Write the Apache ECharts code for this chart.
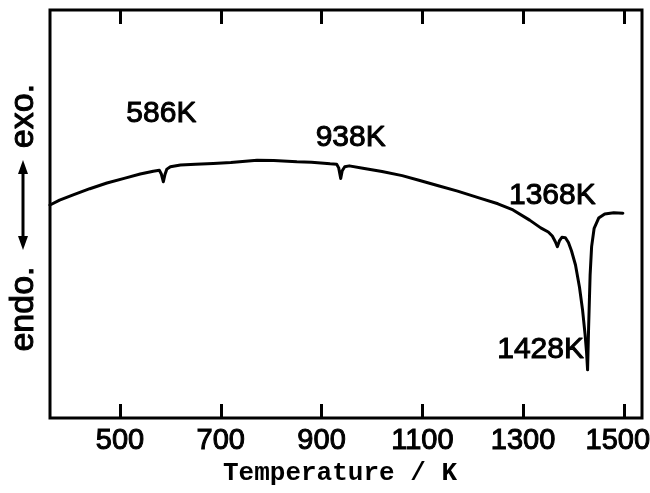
<!DOCTYPE html>
<html>
<head>
<meta charset="utf-8">
<script src="https://cdn.jsdelivr.net/npm/echarts@6/dist/echarts.min.js"></script>
<style>
  html, body { margin: 0; padding: 0; background: #fff; }
  #chart { width: 650px; height: 493px; }
</style>
</head>
<body>
<div id="chart"></div>
<script>
// DTA heating curve: temperature (K) and differential signal (arbitrary units, exo up)
const temperatures = [
  361, 380, 407, 440, 474, 510, 540, 566, 578, 582, 586, 589, 593, 600, 620, 650,
  685, 720, 772, 805, 851, 880, 917, 930, 934, 938, 941, 946, 955, 982, 1020, 1060,
  1095, 1130, 1170, 1214, 1250, 1280, 1313, 1335, 1350, 1358, 1364, 1368, 1372, 1377,
  1384, 1390, 1396, 1404, 1412, 1418, 1423, 1426, 1428, 1430, 1433, 1436, 1441, 1450, 1462,
  1480, 1498
];
const signal = [
  52.2, 53.4, 54.7, 56.2, 57.6, 58.8, 59.8, 60.5, 60.7, 59.8, 57.9, 59.6, 61.0, 61.6, 62.0, 62.2,
  62.4, 62.6, 63.2, 63.1, 62.8, 62.7, 62.3, 62.2, 61.3, 58.7, 60.6, 61.6, 61.8, 61.2, 60.4, 59.4,
  58.2, 57.0, 55.6, 53.9, 52.5, 51.0, 48.5, 46.6, 45.6, 44.6, 43.2, 42.0, 43.4, 44.3,
  44.2, 43.0, 41.0, 37.5, 32.0, 26.5, 20.5, 16.0, 11.8, 22.0, 35.0, 42.0, 46.5, 49.0, 50.0,
  50.3, 50.2
];
// Peak temperatures annotated on the curve
const peakTemps = [586, 938, 1368, 1428];
// Temperature axis tick values
const tickValues = [500, 700, 900, 1100, 1300, 1500];

// label placement for each peak annotation (pixels relative to the peak point)
const peakLabelOffsets = [[-2, -68], [10, -41], [-5, -51], [-47, -20]];

const labelFont = '"Liberation Sans", Arial, sans-serif';

const curve = temperatures.map((t, i) => [t, signal[i]]);
const peaks = peakTemps.map((t, i) => ({
  value: [t, signal[temperatures.indexOf(t)]],
  label: { offset: peakLabelOffsets[i] }
}));

const chart = echarts.init(document.getElementById('chart'), null, { renderer: 'canvas' });

const lastTick = tickValues[tickValues.length - 1];

const tickAxis = (pos, withLabels) => ({
  type: 'value',
  position: pos,
  min: 361,
  max: 1536,
  gridIndex: 0,
  axisLine: { show: false },
  splitLine: { show: false },
  axisTick: {
    show: true,
    inside: true,
    length: 14,
    customValues: tickValues,
    lineStyle: { color: '#000', width: 3 }
  },
  axisLabel: withLabels ? {
    show: true,
    customValues: tickValues,
    // the last label is nudged left so it stays inside the frame
    formatter: v => (v === lastTick ? '{edge|' + v + '}' : String(v)),
    margin: 8,
    fontSize: 29,
    fontFamily: labelFont,
    color: '#000',
    textBorderColor: '#000',
    textBorderWidth: 1,
    rich: {
      edge: {
        fontSize: 29,
        fontFamily: labelFont,
        color: '#000',
        textBorderColor: '#000',
        textBorderWidth: 1,
        padding: [0, 12, 0, 0]
      }
    }
  } : { show: false }
});

const xBottom = tickAxis('bottom', true);
xBottom.name = 'Temperature / K';
xBottom.nameLocation = 'middle';
xBottom.nameGap = 41;
xBottom.nameTextStyle = {
  fontSize: 26,
  fontFamily: '"Liberation Mono", "DejaVu Sans Mono", monospace',
  fontWeight: 'bold',
  color: '#000',
  padding: [0, 12, 0, 0]
};

chart.setOption({
  animation: false,
  backgroundColor: '#fff',
  grid: {
    left: 50, right: 8, top: 10, bottom: 75,
    outerBoundsMode: 'none',
    containLabel: false,
    show: true,
    borderColor: '#000',
    borderWidth: 3,
    backgroundColor: 'transparent'
  },
  xAxis: [xBottom, tickAxis('top', false)],
  yAxis: {
    type: 'value',
    min: 0,
    max: 100,
    axisLine: { show: false },
    axisTick: { show: false },
    axisLabel: { show: false },
    splitLine: { show: false }
  },
  series: [
    {
      type: 'line',
      xAxisIndex: 0,
      data: curve,
      showSymbol: false,
      smooth: false,
      lineStyle: { color: '#000', width: 3, join: 'round', cap: 'round' }
    },
    {
      type: 'scatter',
      xAxisIndex: 0,
      data: peaks,
      symbolSize: 0,
      silent: true,
      itemStyle: { opacity: 1 },
      label: {
        show: true,
        position: 'inside',
        formatter: p => p.value[0] + 'K',
        fontSize: 30,
        fontFamily: labelFont,
        color: '#000',
        opacity: 1,
        textBorderColor: '#000',
        textBorderWidth: 1
      }
    }
  ],
  graphic: [
    {
      type: 'text',
      x: 24, y: 309, rotation: Math.PI / 2,
      style: {
        text: 'endo.', fill: '#000',
        font: '34px ' + labelFont,
        stroke: '#000', lineWidth: 1,
        align: 'center', verticalAlign: 'middle'
      }
    },
    {
      type: 'text',
      x: 24, y: 116, rotation: Math.PI / 2,
      style: {
        text: 'exo.', fill: '#000',
        font: '34px ' + labelFont,
        stroke: '#000', lineWidth: 1,
        align: 'center', verticalAlign: 'middle'
      }
    },
    {
      type: 'line',
      shape: { x1: 23, y1: 170, x2: 23, y2: 240 },
      style: { stroke: '#000', lineWidth: 3 }
    },
    {
      type: 'polygon',
      shape: { points: [[23, 160], [18, 174], [28, 174]] },
      style: { fill: '#000' }
    },
    {
      type: 'polygon',
      shape: { points: [[23, 250], [18, 236], [28, 236]] },
      style: { fill: '#000' }
    }
  ]
});
</script>
</body>
</html>
